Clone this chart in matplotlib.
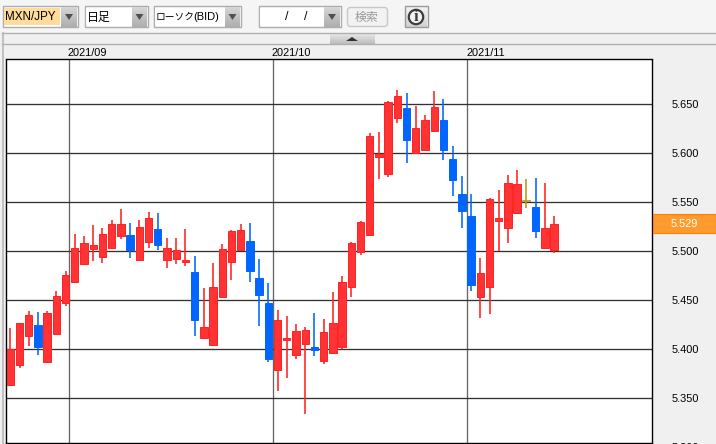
import matplotlib
matplotlib.use('Agg')
import matplotlib.pyplot as plt
import numpy as np
from matplotlib.patches import Rectangle, FancyBboxPatch, Circle, Polygon

# daily candles, MXN/JPY
opens = [5.3639, 5.3843, 5.4139, 5.4245, 5.3873, 5.4159, 5.4476, 5.4690, 5.4873, 5.5027,
         5.4945, 5.5037, 5.5159, 5.5163, 5.4914, 5.5098, 5.5224, 5.4914, 5.4924, 5.4891,
         5.4789, 5.4118, 5.4047, 5.4537, 5.4894, 5.5016, 5.5102, 5.4724, 5.4469, 5.3792,
         5.4098, 5.3945, 5.4057, 5.4023, 5.3884, 5.3965, 5.4027, 5.4639, 5.4996, 5.5169,
         5.5965, 5.5792, 5.6363, 5.6459, 5.6006, 5.6037, 5.6231, 5.6337, 5.5939, 5.5582,
         5.5357, 5.4537, 5.4639, 5.5312, 5.5241, 5.5394, 5.5518, 5.5449, 5.5037, 5.5016]
highs = [5.4214, 5.4265, 5.4388, 5.4381, 5.4388, 5.4595, 5.4799, 5.5177, 5.5156, 5.5268,
         5.5238, 5.5319, 5.5432, 5.5289, 5.5319, 5.5401, 5.5391, 5.5136, 5.5136, 5.5228,
         5.4952, 5.4626, 5.4881, 5.5074, 5.5217, 5.5279, 5.5289, 5.4921, 5.4677, 5.4401,
         5.4340, 5.4258, 5.4228, 5.4370, 5.4309, 5.4585, 5.4748, 5.5095, 5.5309, 5.6207,
         5.6217, 5.6534, 5.6646, 5.6615, 5.6483, 5.6391, 5.6636, 5.6554, 5.6074, 5.5768,
         5.5585, 5.4932, 5.5544, 5.5626, 5.5779, 5.5830, 5.5738, 5.5748, 5.5697, 5.5360]
lows = [5.3629, 5.3812, 5.4037, 5.3942, 5.3873, 5.4159, 5.4445, 5.4677, 5.4873, 5.4901,
        5.4884, 5.5037, 5.5126, 5.4935, 5.4904, 5.5034, 5.5013, 5.4830, 5.4873, 5.4850,
        5.4136, 5.4118, 5.4047, 5.4523, 5.4707, 5.5000, 5.4687, 5.4238, 5.3870, 5.3574,
        5.3707, 5.3901, 5.3340, 5.3932, 5.3850, 5.3965, 5.4003, 5.4534, 5.4962, 5.5159,
        5.5738, 5.5758, 5.6309, 5.5901, 5.5993, 5.6023, 5.6217, 5.5932, 5.5564, 5.5238,
        5.4595, 5.4322, 5.4363, 5.5000, 5.5085, 5.5394, 5.5445, 5.5136, 5.5023, 5.4986]
closes = [5.4000, 5.4265, 5.4347, 5.4027, 5.4367, 5.4541, 5.4755, 5.5031, 5.5082, 5.5061,
          5.5173, 5.5276, 5.5276, 5.5016, 5.5245, 5.5337, 5.5067, 5.5031, 5.5010, 5.4911,
          5.4302, 5.4224, 5.4633, 5.5020, 5.5204, 5.5214, 5.4802, 5.4557, 5.3904, 5.4296,
          5.4115, 5.4184, 5.4194, 5.3996, 5.4173, 5.4265, 5.4684, 5.5082, 5.5296, 5.6173,
          5.5990, 5.6520, 5.6582, 5.6139, 5.6255, 5.6337, 5.6469, 5.6037, 5.5731, 5.5414,
          5.4659, 5.4776, 5.5531, 5.5337, 5.5694, 5.5684, 5.5518, 5.5210, 5.5235, 5.5276]

price_ticks = [5.650, 5.600, 5.550, 5.500, 5.450, 5.400, 5.350, 5.300]
month_pos = [6.4, 28.5, 49.6]
month_labels = ['2021/09', '2021/10', '2021/11']
last_price = 5.529

UP = '#ff3333'
UP_EDGE = '#ff2222'
DOWN = '#0066ff'
DOJI = '#b8960c'
LATIN = 'Liberation Sans'
JP = ['Noto Sans CJK JP', 'DejaVu Sans']

W, H = 716, 444
fig = plt.figure(figsize=(W / 100, H / 100), dpi=100, facecolor='#f0f0f0')

# window chrome, in pixel coordinates
bg = fig.add_axes([0, 0, 1, 1], zorder=0)
bg.set_xlim(0, W)
bg.set_ylim(H, 0)
bg.axis('off')


def gradient(x0, y0, x1, y1, c0=0.84, c1=0.68):
    ramp = np.linspace(c0, c1, 32).reshape(-1, 1)
    bg.imshow(ramp, extent=(x0, x1, y1, y0), cmap='gray', vmin=0, vmax=1,
              aspect='auto', zorder=2)


def combo(x0, x1, field_end, text, field='white', **kw):
    bg.add_patch(Rectangle((x0 + 0.5, 6.5), x1 - x0, 20.5, fc='white', ec='#adadad', lw=1, zorder=1))
    bg.add_patch(Rectangle((x0 + 2, 8), field_end - x0 - 2, 17.5, fc=field, ec='none', zorder=2))
    gradient(field_end + 1, 7, x1, 27)
    cx = (field_end + 1 + x1) / 2
    bg.add_patch(Polygon([(cx - 4, 14), (cx + 4, 14), (cx, 20)], fc='#505050', ec='none', zorder=3))
    bg.text(x0 + 3, 17, text, ha='left', va='center', color='black', zorder=4, **kw)


bg.add_patch(Rectangle((0, 0), W, 33, fc='#f5f5f5', ec='none', zorder=0))
combo(2, 77, 60, 'MXN/JPY', field='#ffdc9c', family=LATIN, fontsize=8.4)
combo(84, 147, 131, '日足', family=JP, fontsize=8.6)
combo(153, 240, 224, 'ローソク', family=JP, fontsize=7)
bg.text(193, 17, '(BID)', ha='left', va='center', family=LATIN, fontsize=8, zorder=4)
combo(258, 340, 323, '', family=LATIN, fontsize=8)
bg.text(287, 17, '/', ha='center', va='center', family=LATIN, fontsize=9)
bg.text(306, 17, '/', ha='center', va='center', family=LATIN, fontsize=9)

bg.add_patch(FancyBboxPatch((347.5, 7.5), 40, 19, boxstyle='round,pad=0,rounding_size=3',
                            fc='#f2f2f2', ec='#c8c8c8', lw=1, zorder=2))
bg.text(367, 17, '検索', ha='center', va='center', family=JP, fontsize=8.6, color='#9a9a9a', zorder=3)

gradient(405, 7, 427, 27, 0.95, 0.82)
bg.add_patch(Rectangle((404.5, 6.5), 23, 21, fc='none', ec='#9a9a9a', lw=1, zorder=3))
bg.add_patch(Circle((416, 17), 7.2, fc='#f2f2f2', ec='#3c3c3c', lw=1.6, zorder=4))
bg.text(416, 17, 'i', ha='center', va='center', family='Liberation Serif', fontsize=12,
        weight='bold', color='#3c3c3c', zorder=5)

bg.plot([2, W], [33.5, 33.5], color='#b0b0b0', lw=1, zorder=3)
bg.plot([2, W], [44.5, 44.5], color='#b0b0b0', lw=1, zorder=3)
bg.plot([2.5, 2.5], [33, H], color='#b8b8b8', lw=1.2, zorder=3)
gradient(330, 34, 375, 44, 0.9, 0.74)
bg.add_patch(Polygon([(346, 41), (358, 41), (352, 37)], fc='#333333', ec='none', zorder=4))

# chart area
ax = fig.add_axes([6.0 / W, 1 - 443.3 / H, 646 / W, 383.8 / H], zorder=1, facecolor='white')
idx = np.arange(len(opens))
ax.set_xlim((6.0 - 10.3) / 9.216, (652.0 - 10.3) / 9.216)
ax.set_ylim(5.5 - 192.0 / 980, 5.5 + 191.8 / 980)

ax.set_yticks(price_ticks[:-1])
ax.set_xticks(month_pos)
ax.tick_params(length=0, labelleft=False, labelbottom=False)
ax.set_axisbelow(True)
ax.grid(axis='y', color='#333333', lw=0.95)
ax.grid(axis='x', color='#666666', lw=0.95)
for s in ax.spines.values():
    s.set_color('black')
    s.set_linewidth(1.0)

for i in idx:
    o, h, l, c = opens[i], highs[i], lows[i], closes[i]
    if o == c:
        col, edge = DOJI, DOJI
    elif c > o:
        col, edge = UP, UP_EDGE
    else:
        col, edge = DOWN, DOWN
    ax.vlines(i, l, h, color=edge, lw=1.15, zorder=3)
    if o == c:
        ax.hlines(o, i - 0.45, i + 0.45, color=edge, lw=1.15, zorder=4)
    else:
        ax.bar(i, abs(c - o), bottom=min(o, c), width=0.8, color=col, edgecolor=edge, lw=0.7, zorder=4)

for pos, lab in zip(month_pos, month_labels):
    ax.annotate(lab, xy=(pos, 1), xycoords=('data', 'axes fraction'), xytext=(-1.0, 0.8),
                textcoords='offset points', ha='left', va='bottom', family=LATIN,
                fontsize=7.9, color='black', annotation_clip=False)

trans = ax.get_yaxis_transform()
for p in price_ticks:
    ax.text(1.0515, p - 0.0008, '%.3f' % p, transform=trans, ha='center', va='center',
            family=LATIN, fontsize=7.9, color='black', clip_on=False)

# current price tag
tag = fig.add_axes([653 / W, 1 - 232.7 / H, 63 / W, 18.7 / H], zorder=2, facecolor='#ff9a2e')
tag.set_xticks([])
tag.set_yticks([])
for s in tag.spines.values():
    s.set_color('#ff8000')
tag.text(0.5, 0.47, '%.3f' % last_price, ha='center', va='center', transform=tag.transAxes,
         family=LATIN, fontsize=7.9, color='white')

fig.savefig('out.png', dpi=100, facecolor=fig.get_facecolor())
